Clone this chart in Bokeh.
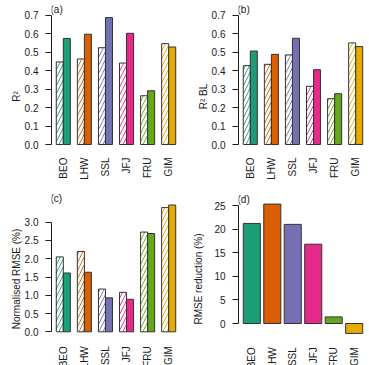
import math
from bokeh.plotting import figure
from bokeh.layouts import gridplot
from bokeh.core.properties import value
from bokeh.models import (ColumnDataSource, FixedTicker, PrintfTickFormatter,
                          Range1d, Label, LabelSet)
from bokeh.embed import file_html
from bokeh.resources import INLINE

# ---------------- data ----------------
sites = ["BEO", "LHW", "SSL", "JFJ", "FRU", "GIM"]
colors = ["#1B9E77", "#D95F02", "#7570B3", "#E7298A", "#66A61E", "#E6AB02"]

r2_base = [0.447, 0.463, 0.524, 0.441, 0.264, 0.546]
r2_new = [0.574, 0.597, 0.687, 0.602, 0.291, 0.528]

r2bl_base = [0.427, 0.434, 0.485, 0.315, 0.248, 0.550]
r2bl_new = [0.506, 0.488, 0.575, 0.405, 0.275, 0.530]

nrmse_base = [2.05, 2.20, 1.17, 1.08, 2.73, 3.40]
nrmse_new = [1.61, 1.63, 0.93, 0.89, 2.69, 3.47]

rmse_red = [21.2, 25.3, 21.0, 16.8, 1.4, -2.1]

ticks_r2 = [0.0, 0.1, 0.2, 0.3, 0.4, 0.5, 0.6, 0.7]
ticks_nrmse = [0.0, 0.5, 1.0, 1.5, 2.0, 2.5, 3.0]
ticks_red = [0, 5, 10, 15, 20, 25]

FONT = "Liberation Sans"
FS = "10px"
INK = "#1a1a1a"
TOP = 5


def y_range_for(v0, p0, v1, p1, bottom):
    """range so that value v0 sits at pixel p0 and v1 at p1 (frame from TOP..bottom)"""
    scale = (p0 - p1) / (v1 - v0)
    return Range1d(v0 - (bottom - p0) / scale, v1 + (p1 - TOP) / scale)


def make_fig(w, h, x_range, y_range, right_border):
    p = figure(width=w, height=h, x_range=x_range, y_range=y_range,
               output_backend="svg", toolbar_location=None,
               min_border_left=51, min_border_right=right_border,
               min_border_top=TOP, min_border_bottom=0)
    p.outline_line_color = None
    p.xgrid.visible = False
    p.ygrid.visible = False
    p.xaxis.visible = False
    p.background_fill_color = "white"
    p.border_fill_color = "white"
    return p


def style_axes(p, yticks, fmt, ylabel, xcenters, lab_standoff, ybounds, xlab_y):
    ya = p.yaxis[0]
    ya.ticker = FixedTicker(ticks=yticks)
    ya.formatter = PrintfTickFormatter(format=fmt)
    ya.bounds = ybounds
    ya.axis_line_color = INK
    ya.major_tick_line_color = INK
    ya.major_tick_out = 6
    ya.major_tick_in = 0
    ya.minor_tick_line_color = None
    ya.major_label_standoff = 7
    ya.major_label_text_font = FONT
    ya.major_label_text_font_size = FS
    ya.major_label_text_color = INK
    ya.axis_label = ylabel
    ya.axis_label_text_font = FONT
    ya.axis_label_text_font_size = FS
    ya.axis_label_text_font_style = "normal"
    ya.axis_label_text_color = INK
    ya.axis_label_standoff = lab_standoff

    # category labels under the bars, rotated (read upwards), hanging down
    lab_src = ColumnDataSource(dict(x=xcenters, text=sites))
    p.add_layout(LabelSet(x="x", y=xlab_y, y_units="screen", text="text",
                          source=lab_src, angle=math.pi / 2,
                          text_align="right", text_baseline="middle",
                          text_font=value(FONT), text_font_size=value(FS),
                          text_color=INK))


def add_tag(p, text, y):
    p.add_layout(Label(x=-1, y=y, x_units="screen", y_units="screen", text=text,
                       text_font=FONT, text_font_size=FS, text_color=INK,
                       text_baseline="middle", text_align="left"))


def paired_panel(w, h, base, new, y_range, yticks, ylabel, tag, tag_y,
                 right_border, ybounds, xlab_y):
    n = len(sites)
    xb = [1.5 + 3 * i for i in range(n)]
    xn = [2.5 + 3 * i for i in range(n)]
    xc = [2 + 3 * i for i in range(n)]
    p = make_fig(w, h, Range1d(0.32, 18.68), y_range, right_border)
    src_b = ColumnDataSource(dict(x=xb, top=base, color=colors))
    src_n = ColumnDataSource(dict(x=xn, top=new, color=colors))
    p.vbar(x="x", top="top", bottom=0, width=1, source=src_b,
           fill_color="white", line_color="#333333", line_width=1,
           hatch_pattern="/", hatch_color="color", hatch_scale=8, hatch_weight=0.9)
    p.vbar(x="x", top="top", bottom=0, width=1, source=src_n,
           fill_color="color", line_color="#333333", line_width=1)
    style_axes(p, yticks, "%.1f", ylabel, xc, 0, ybounds, xlab_y)
    add_tag(p, tag, tag_y)
    return p


H_TOP, H_BOT = 187, 178

pa = paired_panel(187, H_TOP, r2_base, r2_new, y_range_for(0.0, 144, 0.7, 14.7, H_TOP),
                  ticks_r2, "R²", "(a)", H_TOP - 9, 7, (0, 0.7), H_TOP - 157)
pb = paired_panel(182, H_TOP, r2bl_base, r2bl_new, y_range_for(0.0, 144, 0.7, 14.7, H_TOP),
                  ticks_r2, "R² BL", "(b)", H_TOP - 9, 2, (0, 0.7), H_TOP - 157)
pc = paired_panel(187, H_BOT, nrmse_base, nrmse_new,
                  y_range_for(0.0, 144.3, 3.0, 34.7, H_BOT),
                  ticks_nrmse, "Normalised RMSE (%)", "(c)", H_BOT - 11, 7, (0, 3.0),
                  H_BOT - 158.7)

# panel (d): single bars
xd = [0.7 + 1.2 * i for i in range(len(sites))]
pd_ = make_fig(182, H_BOT, Range1d(-0.08, 7.48), y_range_for(0, 136, 25, 18, H_BOT), 1)
src_d = ColumnDataSource(dict(x=xd, top=rmse_red, color=colors))
pd_.vbar(x="x", top="top", bottom=0, width=1, source=src_d,
         fill_color="color", line_color="#333333", line_width=1)
style_axes(pd_, ticks_red, "%d", "RMSE reduction (%)", xd, 7, (0, 25), H_BOT - 159.7)
add_tag(pd_, "(d)", H_BOT - 11.5)

grid = gridplot([[pa, pb], [pc, pd_]], toolbar_location=None)

open("out.html", "w").write(file_html(grid, INLINE))
